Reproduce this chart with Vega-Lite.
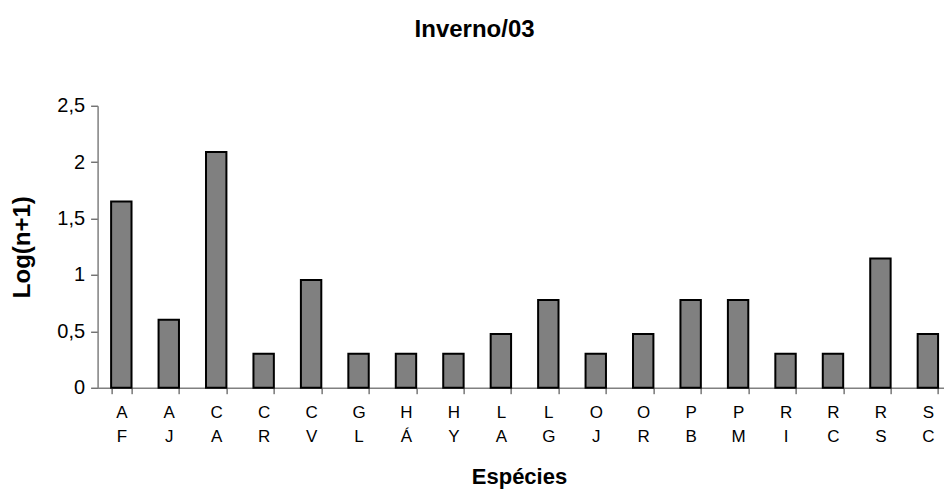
{
  "$schema": "https://vega.github.io/schema/vega-lite/v6.json",
  "autosize": "none",
  "padding": {"left": 97.6, "top": 105.7, "right": 0, "bottom": 106.3},
  "width": 854,
  "height": 282,
  "background": "white",
  "title": {
    "text": "Inverno/03",
    "font": "Liberation Sans",
    "fontSize": 24,
    "fontWeight": "bold",
    "color": "black",
    "anchor": "middle",
    "frame": "group",
    "dx": -50,
    "baseline": "alphabetic",
    "offset": 35
  },
  "data": {
    "values": [
      {"especie": "A F", "valor": 1.65},
      {"especie": "A J", "valor": 0.602},
      {"especie": "C A", "valor": 2.09},
      {"especie": "C R", "valor": 0.301},
      {"especie": "C V", "valor": 0.954},
      {"especie": "G L", "valor": 0.301},
      {"especie": "H Á", "valor": 0.301},
      {"especie": "H Y", "valor": 0.301},
      {"especie": "L A", "valor": 0.477},
      {"especie": "L G", "valor": 0.778},
      {"especie": "O J", "valor": 0.301},
      {"especie": "O R", "valor": 0.477},
      {"especie": "P B", "valor": 0.778},
      {"especie": "P M", "valor": 0.778},
      {"especie": "R I", "valor": 0.301},
      {"especie": "R C", "valor": 0.301},
      {"especie": "R S", "valor": 1.146},
      {"especie": "S C", "valor": 0.477}
    ]
  },
  "mark": {"type": "bar", "fill": "#808080", "stroke": "black", "strokeWidth": 2},
  "encoding": {
    "x": {
      "field": "especie",
      "type": "nominal",
      "sort": null,
      "scale": {"paddingInner": 0.57, "paddingOuter": 0.285},
      "axis": {
        "title": "Espécies",
        "titleFont": "Liberation Sans",
        "titleFontSize": 22,
        "titleFontWeight": "bold",
        "titleColor": "black",
        "titleX": 421.4,
        "titleY": 96.3,
        "titleAlign": "center",
        "titleBaseline": "alphabetic",
        "labelAngle": 0,
        "labelExpr": "isValid(datum.value) ? split(datum.value, ' ') : ''",
        "labelFont": "Liberation Sans",
        "labelFontSize": 17,
        "labelColor": "black",
        "labelLineHeight": 24,
        "labelPadding": 11,
        "labelBaseline": "top",
        "tickBand": "extent",
        "tickSize": 6,
        "tickColor": "#333333",
        "domainColor": "#808080",
        "domainWidth": 1.5,
        "grid": false
      }
    },
    "y": {
      "field": "valor",
      "type": "quantitative",
      "scale": {"domain": [0, 2.5], "nice": false},
      "axis": {
        "title": "Log(n+1)",
        "titleFont": "Liberation Sans",
        "titleFontSize": 24,
        "titleFontWeight": "bold",
        "titleColor": "black",
        "titleAngle": -90,
        "titleX": -75,
        "titleY": 141,
        "titleAlign": "center",
        "titleBaseline": "middle",
        "values": [0, 0.5, 1, 1.5, 2, 2.5],
        "labelExpr": "replace(format(datum.value, '~g'), '.', ',')",
        "labelFont": "Liberation Sans",
        "labelFontSize": 20,
        "labelColor": "black",
        "labelPadding": 6,
        "tickSize": 7,
        "tickColor": "#333333",
        "domainColor": "#808080",
        "domainWidth": 1.5,
        "grid": false
      }
    }
  },
  "config": {"view": {"stroke": null}}
}
